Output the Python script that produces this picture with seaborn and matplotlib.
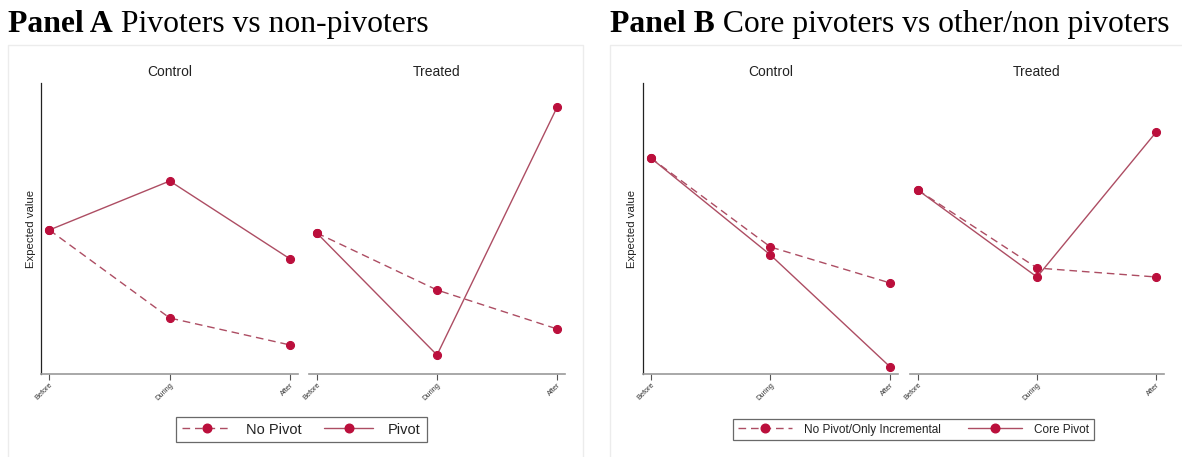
import matplotlib
matplotlib.use("Agg")
import matplotlib.pyplot as plt
from matplotlib.lines import Line2D
from matplotlib.patches import Rectangle
from matplotlib.transforms import ScaledTranslation
import seaborn as sns

sns.set_theme(style="white")
plt.rcParams['font.family'] = ['Liberation Sans', 'DejaVu Sans']

# ---------------- data ----------------
periods = ["Before", "During", "After"]
groups = ["Control", "Treated"]

# Panel A
a_labels = ["No Pivot", "Pivot"]
a_control_nopivot = [1.44, 0.56, 0.29]
a_control_pivot = [1.44, 1.93, 1.15]
a_treated_nopivot = [1.41, 0.84, 0.45]
a_treated_pivot = [1.41, 0.19, 2.67]

# Panel B
b_labels = ["No Pivot/Only Incremental", "Core Pivot"]
b_control_nopivot = [2.16, 1.27, 0.91]
b_control_core = [2.16, 1.19, 0.07]
b_treated_nopivot = [1.84, 1.06, 0.97]
b_treated_core = [1.84, 0.97, 2.42]

panel_titles = [("Panel A", " Pivoters vs non-pivoters"),
                ("Panel B", " Core pivoters vs other/non pivoters")]

# ---------------- style ----------------
W, H = 1182, 457
LINE_C = "#ad4d63"
MARK_C = "#bb0f3c"
DASH = (0, (5.5, 3.5))
MS = 5.8

fig = plt.figure(figsize=(W / 100, H / 100), dpi=100)


def fx(px):
    return px / W


def fy(py):
    return 1 - py / H


TOP, BOT = 83, 374


def make_ax(left, right, top=TOP, bottom=BOT):
    return fig.add_axes([fx(left), fy(bottom), fx(right - left), fy(top) - fy(bottom)])


def draw(ax, nopiv, piv, show_y, title):
    x = list(range(len(periods)))
    sns.lineplot(x=x, y=nopiv, ax=ax, color=LINE_C, linewidth=1.0, linestyle=DASH,
                 marker="o", markersize=MS, markerfacecolor=MARK_C, markeredgecolor=MARK_C)
    sns.lineplot(x=x, y=piv, ax=ax, color=LINE_C, linewidth=1.0,
                 marker="o", markersize=MS, markerfacecolor=MARK_C, markeredgecolor=MARK_C)
    ax.set_xlim(-0.065, 2.065)
    ax.set_ylim(0, 2.91)
    ax.set_xticks(x)
    ax.set_xticklabels(periods, rotation=45, ha="right", rotation_mode="anchor",
                       fontsize=5.3, color="#333333")
    ax.tick_params(axis="x", bottom=True, length=4, width=0.8, color="#555555", pad=1.5)
    ax.set_yticks([])
    ax.set_xlabel("")
    ax.set_ylabel("")
    for s in ["top", "right"]:
        ax.spines[s].set_visible(False)
    ax.spines["bottom"].set_color("#9a9a9a")
    ax.spines["bottom"].set_linewidth(1.2)
    if show_y:
        ax.spines["left"].set_color("#222222")
        ax.spines["left"].set_linewidth(0.9)
    else:
        ax.spines["left"].set_visible(False)
    ax.set_facecolor("none")
    ty = (fy(72) - fy(BOT)) / (fy(TOP) - fy(BOT))
    ax.set_title(title, fontsize=10, color="#222222", pad=0, y=ty, va="center")


# Panel A axes
axA1 = make_ax(41.5, 298)
axA2 = make_ax(309, 565)
draw(axA1, a_control_nopivot, a_control_pivot, True, groups[0])
draw(axA2, a_treated_nopivot, a_treated_pivot, False, groups[1])

# Panel B axes
axB1 = make_ax(643, 898)
axB2 = make_ax(910, 1164)
draw(axB1, b_control_nopivot, b_control_core, True, groups[0])
draw(axB2, b_treated_nopivot, b_treated_core, False, groups[1])

for ax in [axA1, axB1]:
    ax.set_ylabel("Expected value", fontsize=8.2, color="#222222", labelpad=4)

# outer light boxes
for (l, r) in [(8, 583), (610, 1190)]:
    fig.patches.append(Rectangle((fx(l), fy(470)), fx(r - l), fy(45) - fy(470),
                                 transform=fig.transFigure, fill=False,
                                 edgecolor="#ececec", linewidth=1.0, zorder=0))


# legends
def handles(labels):
    h1 = Line2D([], [], color=LINE_C, linewidth=1.0, linestyle=DASH, marker="o",
                markersize=MS + 0.4, markerfacecolor=MARK_C, markeredgecolor=MARK_C)
    h2 = Line2D([], [], color=LINE_C, linewidth=1.0, marker="o",
                markersize=MS + 0.4, markerfacecolor=MARK_C, markeredgecolor=MARK_C)
    return [h1, h2], labels


for (l, r), labs, fs, hl, cs in [((177, 426), a_labels, 10.5, 3.4, 1.5),
                                 ((731, 1096), b_labels, 8.5, 4.6, 2.3)]:
    hs, ls = handles(labs)
    leg = fig.legend(hs, ls, loc="center", bbox_to_anchor=(fx((l + r) / 2), fy(429.5)),
                     ncol=2, frameon=True, fancybox=False, edgecolor="#444444",
                     fontsize=fs, handlelength=hl, columnspacing=cs,
                     borderpad=0.4, handletextpad=1.0, borderaxespad=0)
    leg.get_frame().set_linewidth(0.9)
    for t in leg.get_texts():
        t.set_color("#222222")
    # align baselines of the two legend labels (descender in first label)
    if any(ch in labs[0] for ch in "gjpqy") and not any(ch in labs[1] for ch in "gjpqy"):
        t2 = leg.get_texts()[1]
        t2.set_transform(t2.get_transform() + ScaledTranslation(0, -0.7 / 72, fig.dpi_scale_trans))

# panel titles (bold + regular)
fig.canvas.draw()
renderer = fig.canvas.get_renderer()
for (bold, rest), x0 in zip(panel_titles, [8, 610]):
    tb = fig.text(fx(x0), fy(32), bold, fontsize=22.8, fontweight="bold",
                  family=["Liberation Serif", "DejaVu Serif"], color="black", va="baseline")
    bb = tb.get_window_extent(renderer=renderer)
    fig.text(bb.x1 / W, fy(32), rest, fontsize=22.8,
             family=["Liberation Serif", "DejaVu Serif"], color="black", va="baseline")

fig.savefig("out.png", dpi=100)
